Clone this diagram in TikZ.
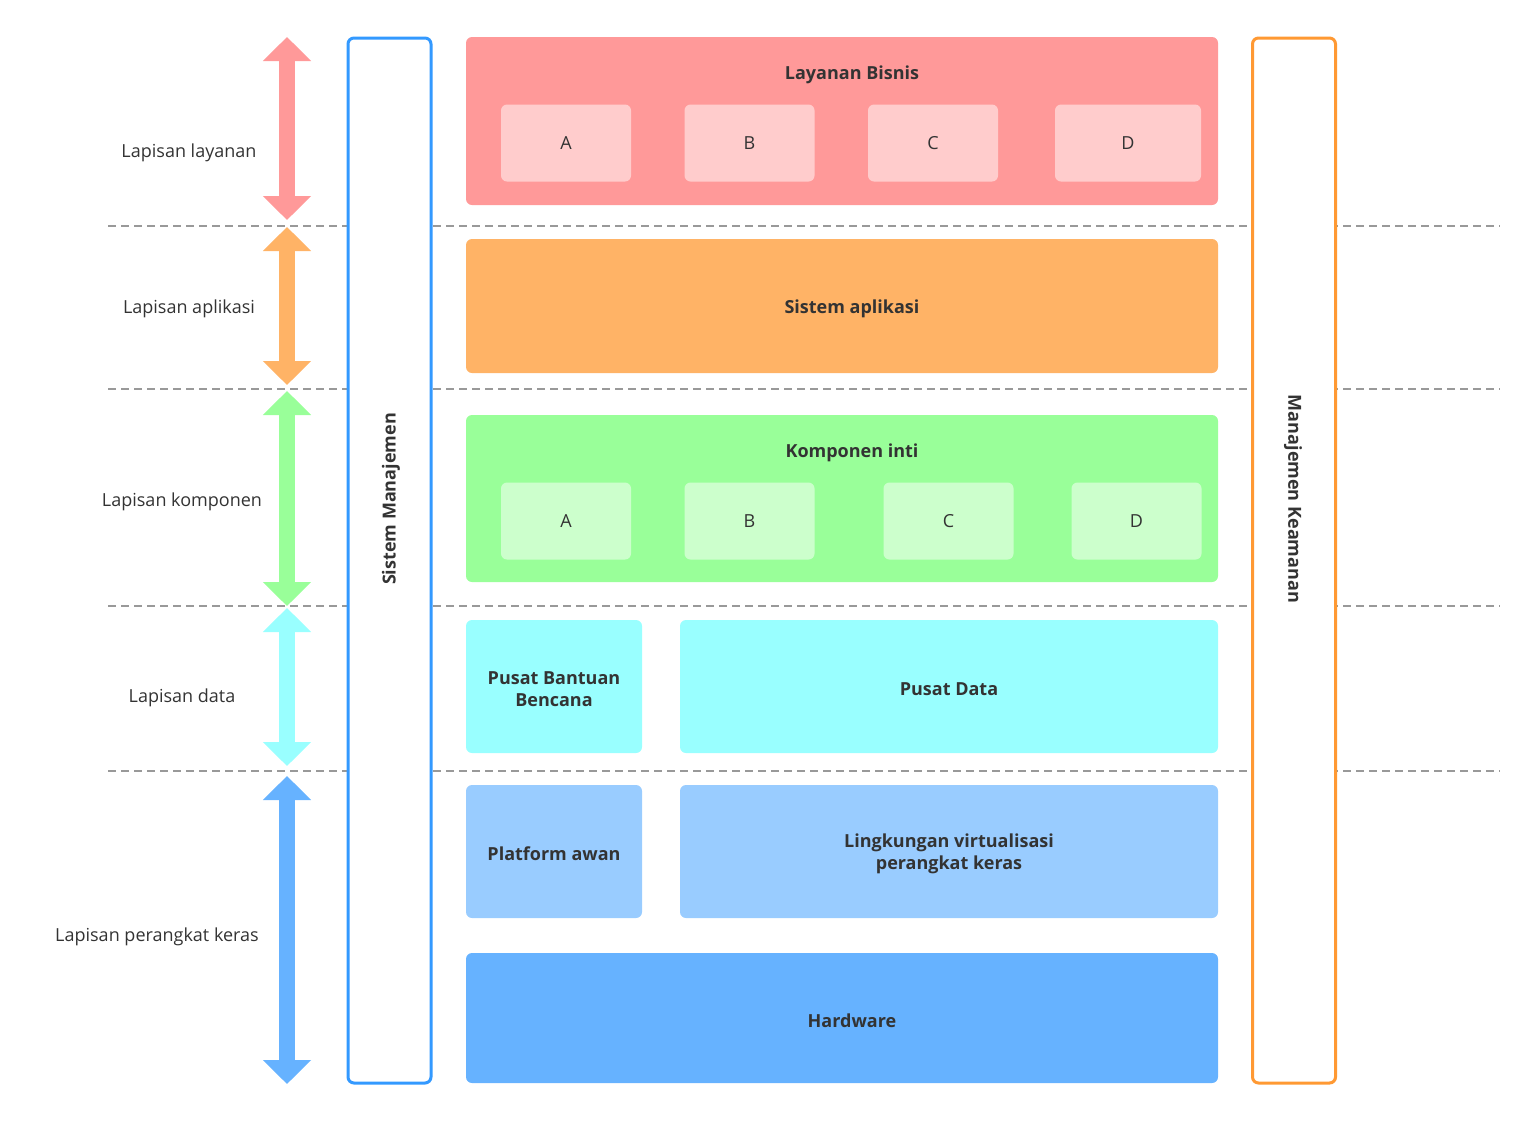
\documentclass[tikz,border=0pt]{standalone}
\usepackage{fontspec}
\setmainfont{Open Sans}
\usepackage{xcolor}
\usetikzlibrary{arrows.meta}
\definecolor{layanan}{RGB}{255,153,153}
\definecolor{layanan_sub}{RGB}{255,204,204}
\definecolor{aplikasi}{RGB}{255,179,102}
\definecolor{komponen}{RGB}{153,255,153}
\definecolor{komponen_sub}{RGB}{204,255,204}
\definecolor{data}{RGB}{153,255,255}
\definecolor{perangkat}{RGB}{153,204,255}
\definecolor{hardware}{RGB}{102,178,255}
\definecolor{manajemen}{RGB}{51,153,255}
\definecolor{keamanan}{RGB}{255,153,51}
\definecolor{teks}{RGB}{51,51,51}
\definecolor{garis}{RGB}{153,153,153}

\tikzset{
  layerarrow/.style={line width=8pt,
    {Triangle[width=23.5pt,length=12pt]}-{Triangle[width=23.5pt,length=12pt]}},
  layerlabel/.style={text=teks, font=\fontsize{9}{11}\selectfont, align=center},
  layerbox/.style={rounded corners=3pt, inner sep=0pt},
  subbox/.style={layerbox, minimum width=65pt, minimum height=38.5pt,
    text=teks, font=\fontsize{9}{11}\selectfont},
  boxtitle/.style={text=teks, font=\fontsize{9}{11}\selectfont\bfseries, align=center},
  sidebox/.style={line width=1.5pt, rounded corners=3pt, fill=white,
    minimum width=41.5pt, minimum height=522.5pt},
  separator/.style={garis, line width=1pt, dash pattern=on 4pt off 2.5pt}
}

\begin{document}
\begin{tikzpicture}[x=0.5pt,y=-0.5pt]
\useasboundingbox (0,0) rectangle (1540,1120);

% separators between layers
\foreach \y/\name in {226/sepa, 389/sepb, 606/sepc, 771/sepd} {
  \coordinate (\name west) at (108,\y);
  \coordinate (\name east) at (1500,\y);
  \draw[separator] (\name west) -- (\name east);
}

% layer arrows
\foreach \name/\top/\bottom in {layanan/37/220, aplikasi/227/385, komponen/391/606, data/608/766, hardware/776/1084} {
  \coordinate (\name top) at (287,\top);
  \coordinate (\name bottom) at (287,\bottom);
  \draw[layerarrow, \name] (\name top) -- (\name bottom);
}

% layer names
\node[layerlabel] (lbl layanan) at (189,153) {Lapisan layanan};
\node[layerlabel] (lbl aplikasi) at (189,309) {Lapisan aplikasi};
\node[layerlabel] (lbl komponen) at (182,502) {Lapisan komponen};
\node[layerlabel] (lbl data) at (182,698) {Lapisan data};
\node[layerlabel] (lbl perangkat) at (157,937) {Lapisan perangkat keras};

% side columns
\node[sidebox, draw=manajemen] (sistem) at (389.5,560.5) {};
\node[boxtitle, rotate=90] (sistem title) at (391,499) {Sistem Manajemen};
\node[sidebox, draw=keamanan] (keamanan) at (1294,560.5) {};
\node[boxtitle, rotate=-90] (keamanan title) at (1293,499) {Manajemen Keamanan};

% service layer
\node[layerbox, fill=layanan, minimum width=376pt, minimum height=84pt] (bisnis) at (842,121) {};
\node[boxtitle] (bisnis title) at (852,75) {Layanan Bisnis};
\node[subbox, fill=layanan_sub] (bisnis a) at (566,143) {A};
\node[subbox, fill=layanan_sub] (bisnis b) at (749.5,143) {B};
\node[subbox, fill=layanan_sub] (bisnis c) at (933,143) {C};
\node[subbox, fill=layanan_sub, minimum width=73pt] (bisnis d) at (1128,143) {D};

% application layer
\node[layerbox, fill=aplikasi, minimum width=376pt, minimum height=67pt] (aplikasi) at (842,306) {};
\node[boxtitle] (aplikasi title) at (852,309) {Sistem aplikasi};

% component layer
\node[layerbox, fill=komponen, minimum width=376pt, minimum height=83.5pt] (inti) at (842,498.5) {};
\node[boxtitle] (inti title) at (852,453) {Komponen inti};
\node[subbox, fill=komponen_sub] (inti a) at (566,521) {A};
\node[subbox, fill=komponen_sub] (inti b) at (749.5,521) {B};
\node[subbox, fill=komponen_sub] (inti c) at (948.5,521) {C};
\node[subbox, fill=komponen_sub] (inti d) at (1136.5,521) {D};

% data layer
\node[layerbox, fill=data, minimum width=88pt, minimum height=66.5pt] (bantuan) at (554,686.5) {};
\node[boxtitle] (bantuan title) at (554,689) {Pusat Bantuan\\Bencana};
\node[layerbox, fill=data, minimum width=269pt, minimum height=66.5pt] (pusat) at (949,686.5) {};
\node[boxtitle] (pusat title) at (949,689) {Pusat Data};

% hardware layer
\node[layerbox, fill=perangkat, minimum width=88pt, minimum height=66.5pt] (platform) at (554,851.5) {};
\node[boxtitle] (platform title) at (554,854) {Platform awan};
\node[layerbox, fill=perangkat, minimum width=269pt, minimum height=66.5pt] (virtual) at (949,851.5) {};
\node[boxtitle] (virtual title) at (949,854) {Lingkungan virtualisasi\\perangkat keras};
\node[layerbox, fill=hardware, minimum width=376pt, minimum height=65pt] (hw) at (842,1018) {};
\node[boxtitle] (hw title) at (852,1021) {Hardware};
\end{tikzpicture}
\end{document}
